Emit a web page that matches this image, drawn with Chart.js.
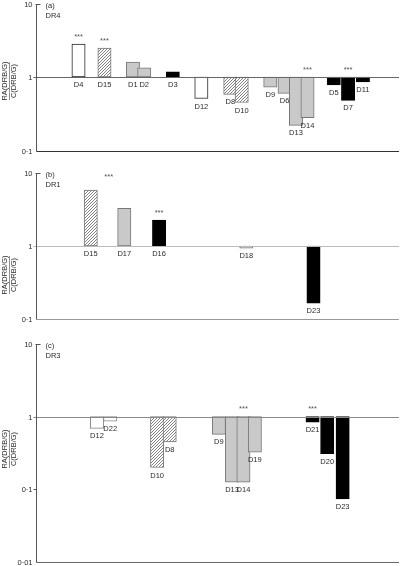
<!DOCTYPE html>
<html>
<head>
<meta charset="utf-8">
<script src="https://cdn.jsdelivr.net/npm/chart.js@4.4.0/dist/chart.umd.min.js"></script>
<style>
    html, body { margin: 0; padding: 0; background: #fff; }
    #wrap { position: relative; width: 400px; height: 566px; }
    canvas { position: absolute; left: 0; }
</style>
</head>
<body>
<div id="wrap">
    <canvas id="chartA" width="400" height="160" style="top:0px"></canvas>
    <canvas id="chartB" width="400" height="160" style="top:165px"></canvas>
    <canvas id="chartC" width="400" height="231" style="top:335px"></canvas>
</div>
<script>
// --- panel (a) DR4 ---
const labelsA = ['D4', 'D15', 'D1', 'D2', 'D3', 'D12', 'D8', 'D10', 'D9', 'D6', 'D13', 'D14', 'D5', 'D7', 'D11'];
const valuesA = [2.81, 2.48, 1.6, 1.33, 1.18, 0.51, 0.58, 0.45, 0.73, 0.6, 0.22, 0.28, 0.78, 0.48, 0.855];
const kindsA = ['open', 'hatch', 'grey', 'grey', 'black', 'open', 'hatch', 'hatch', 'grey', 'grey', 'grey', 'grey', 'black', 'black', 'black'];
const slotsA = [1.44, 3.69, 6.16, 7.14, 9.62, 12.1, 14.61, 15.6, 18.08, 19.32, 20.31, 21.31, 23.59, 24.83, 26.12];
const starsA = ['D4', 'D15', 'D14', 'D7'];

// --- panel (b) DR1 ---
const labelsB = ['D15', 'D17', 'D16', 'D18', 'D23'];
const valuesB = [5.89, 3.3, 2.28, 0.93, 0.163];
const kindsB = ['hatch', 'grey', 'black', 'grey', 'black'];
const slotsB = [2.5, 5.41, 8.43, 16.0, 21.83];
const starsB = ['D15', 'D16'];

// --- panel (c) DR3 ---
const labelsC = ['D12', 'D22', 'D10', 'D8', 'D9', 'D13', 'D14', 'D19', 'D21', 'D20', 'D23'];
const valuesC = [0.69, 0.865, 0.2, 0.45, 0.57, 0.125, 0.125, 0.324, 0.84, 0.31, 0.0736];
const kindsC = ['open', 'open', 'hatch', 'hatch', 'grey', 'grey', 'grey', 'grey', 'black', 'black', 'black'];
const slotsC = [3.04, 4.19, 8.26, 9.35, 13.62, 14.76, 15.75, 16.74, 21.75, 23.02, 24.36];
const starsC = ['D14', 'D21'];

const FONT = '7.5px "Liberation Sans", Arial, sans-serif';
const tickText = v => v >= 1 ? String(v) : String(v).replace('.', '\u00b7');

// diagonal hatch fill
function makeHatch() {
    const c = document.createElement('canvas');
    c.width = 3; c.height = 3;
    const g = c.getContext('2d');
    g.fillStyle = '#fff';
    g.fillRect(0, 0, 3, 3);
    g.strokeStyle = '#5a5a5a';
    g.lineWidth = 0.75;
    g.beginPath();
    g.moveTo(-1, 4); g.lineTo(4, -1);
    g.moveTo(-1, 1); g.lineTo(1, -1);
    g.moveTo(2, 4); g.lineTo(4, 2);
    g.stroke();
    return g.createPattern(c, 'repeat');
}
const hatch = makeHatch();

function fillFor(kind) {
    if (kind === 'hatch') return hatch;
    if (kind === 'grey') return '#c9c9c9';
    if (kind === 'black') return '#000';
    return '#fff';
}
function borderFor(kind, openBorder) {
    if (kind === 'black') return '#000';
    if (kind === 'open') return openBorder;
    return '#777';
}

// axes, labels, stars drawn on top using the chart's own scales
const panelDecor = {
    id: 'panelDecor',
    afterDatasetsDraw(chart) {
        const p = chart.options.plugins.panelDecor;
        const ctx = chart.ctx;
        const ys = chart.scales.y;
        const area = chart.chartArea;
        const px = v => Math.round(ys.getPixelForValue(v)) + 0.5;
        const left = Math.round(area.left) + 0.5;
        const top = px(p.max), bottom = px(p.min), base = px(1);

        ctx.save();
        ctx.lineWidth = 1;

        // baseline at 1
        ctx.strokeStyle = p.baseColor;
        ctx.beginPath(); ctx.moveTo(left - 3, base); ctx.lineTo(area.right, base); ctx.stroke();

        // bottom line
        ctx.strokeStyle = p.bottomColor;
        ctx.beginPath(); ctx.moveTo(left, bottom); ctx.lineTo(area.right, bottom); ctx.stroke();

        // left axis
        ctx.strokeStyle = '#555';
        ctx.beginPath(); ctx.moveTo(left, top); ctx.lineTo(left, bottom); ctx.stroke();
        ctx.beginPath(); ctx.moveTo(left - 1, top); ctx.lineTo(left + 4, top); ctx.stroke();
        p.ticks.forEach(v => {
            if (v === p.max || v === p.min || v === 1) return;
            ctx.beginPath(); ctx.moveTo(left - 3, px(v)); ctx.lineTo(left, px(v)); ctx.stroke();
        });

        ctx.font = FONT;
        ctx.fillStyle = '#2a2a2a';
        ctx.textAlign = 'right';
        ctx.textBaseline = 'middle';
        p.ticks.forEach(v => ctx.fillText(tickText(v), left - 4, px(v)));

        // panel tag
        ctx.textAlign = 'left';
        ctx.fillText(p.tag, left + 9, top + 1.5);
        ctx.fillText(p.group, left + 9, top + 11.5);

        // y title as a fraction
        ctx.save();
        ctx.translate(9.5, p.titleY);
        ctx.rotate(-Math.PI / 2);
        ctx.textAlign = 'center';
        ctx.fillText('RA(DRB/G)', 0, -4.6);
        ctx.fillText('C(DRB/G)', 0, 4.6);
        ctx.strokeStyle = '#444';
        ctx.lineWidth = 0.6;
        ctx.beginPath(); ctx.moveTo(-19, 0); ctx.lineTo(19, 0); ctx.stroke();
        ctx.restore();

        // bar labels and significance stars
        const meta = chart.getDatasetMeta(0);
        ctx.textAlign = 'center';
        meta.data.forEach((bar, i) => {
            const name = p.labels[i];
            const low = Math.max(bar.y, bar.base);
            const high = Math.min(bar.y, bar.base);
            ctx.textBaseline = 'middle';
            ctx.fillStyle = '#2a2a2a';
            ctx.fillText(name, bar.x, low + 8);
            if (p.stars.includes(name)) {
                let sx = bar.x, sy = high - 9.5;
                if (p.starNudge && p.starNudge.name === name) {
                    sx += p.starNudge.dx; sy += p.starNudge.dy;
                }
                ctx.fillStyle = '#555';
                ctx.textBaseline = 'alphabetic';
                ctx.fillText('***', sx, sy + 4.3);
            }
        });
        ctx.restore();
    }
};

function makePanel(id, cfg) {
    const ctx = document.getElementById(id).getContext('2d');
    return new Chart(ctx, {
        type: 'bar',
        data: {
            datasets: [{
                data: cfg.slots.map((s, i) => ({ x: s, y: [1, cfg.values[i]] })),
                backgroundColor: cfg.kinds.map(fillFor),
                borderColor: cfg.kinds.map(k => borderFor(k, cfg.openBorder)),
                borderWidth: 1,
                borderSkipped: false,
                barThickness: 13.3
            }]
        },
        options: {
            responsive: false,
            animation: false,
            layout: { padding: cfg.padding },
            scales: {
                x: { type: 'linear', min: 0, max: 27, display: false },
                y: { type: 'logarithmic', min: cfg.min, max: 10, display: false }
            },
            plugins: {
                legend: { display: false },
                tooltip: { enabled: false },
                panelDecor: {
                    labels: cfg.labels, stars: cfg.stars, starNudge: cfg.starNudge,
                    min: cfg.min, max: 10, ticks: cfg.ticks,
                    tag: cfg.tag, group: cfg.group, titleY: cfg.titleY,
                    baseColor: cfg.baseColor, bottomColor: cfg.bottomColor
                }
            }
        },
        plugins: [panelDecor]
    });
}

makePanel('chartA', {
    labels: labelsA, values: valuesA, kinds: kindsA, slots: slotsA, stars: starsA,
    min: 0.1, ticks: [10, 1, 0.1], tag: '(a)', group: 'DR4', titleY: 81,
    padding: { left: 36, right: 1, top: 3.5, bottom: 9.5 },
    openBorder: '#222', baseColor: '#666', bottomColor: '#333'
});

makePanel('chartB', {
    labels: labelsB, values: valuesB, kinds: kindsB, slots: slotsB, stars: starsB,
    starNudge: { name: 'D15', dx: 18, dy: -6 },
    min: 0.1, ticks: [10, 1, 0.1], tag: '(b)', group: 'DR1', titleY: 275 - 165,
    padding: { left: 36, right: 1, top: 8.3, bottom: 6.3 },
    openBorder: '#222', baseColor: '#bbb', bottomColor: '#999'
});

makePanel('chartC', {
    labels: labelsC, values: valuesC, kinds: kindsC, slots: slotsC, stars: starsC,
    min: 0.01, ticks: [10, 1, 0.1, 0.01], tag: '(c)', group: 'DR3', titleY: 449 - 335,
    padding: { left: 36, right: 1, top: 9, bottom: 4 },
    openBorder: '#888', baseColor: '#888', bottomColor: '#666'
});
</script>
</body>
</html>
